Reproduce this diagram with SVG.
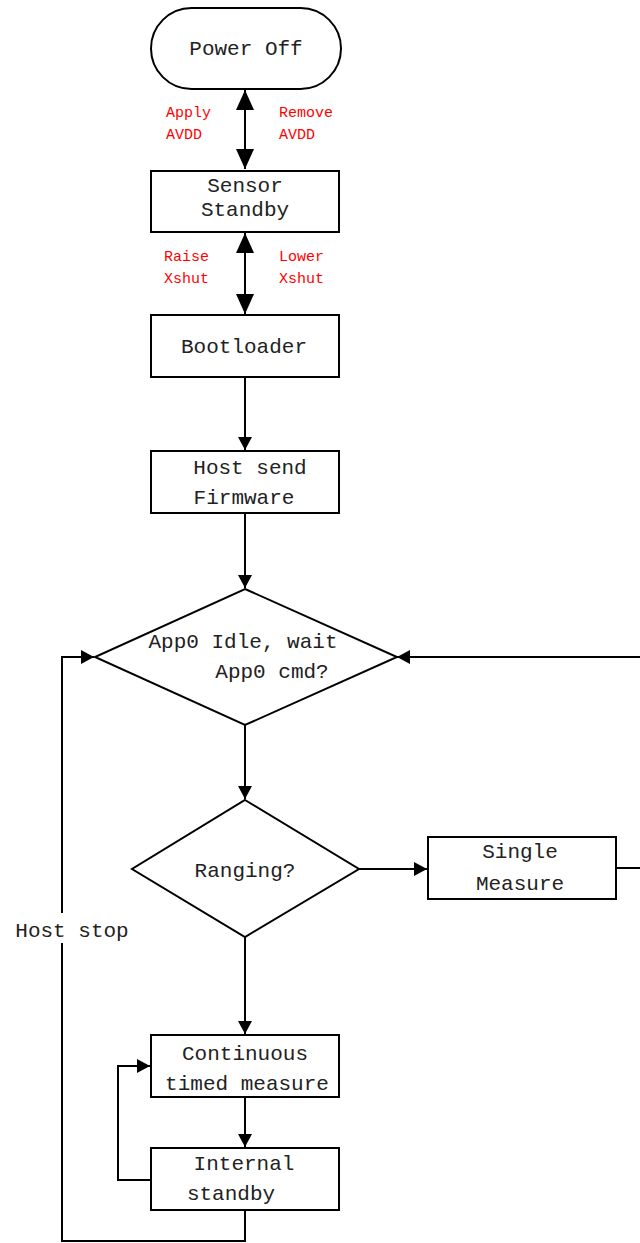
<svg xmlns="http://www.w3.org/2000/svg" width="640" height="1243" viewBox="0 0 640 1243">
<style>
.box{fill:#fff;stroke:#000;stroke-width:2}
.ln{fill:none;stroke:#000;stroke-width:2}
.t{font-family:"Liberation Mono","DejaVu Sans Mono",monospace;font-size:21px;fill:#222;text-anchor:middle}
.r{font-family:"Liberation Mono","DejaVu Sans Mono",monospace;font-size:15px;fill:#ff0000}
</style>
<defs>
<marker id="ah" markerUnits="userSpaceOnUse" markerWidth="16" markerHeight="16" viewBox="0 0 16 16" refX="13" refY="8" orient="auto-start-reverse">
<path d="M0,1 L13,8 L0,15 Z" fill="#000"/>
</marker>
<marker id="big" markerUnits="userSpaceOnUse" markerWidth="22" markerHeight="22" viewBox="0 0 22 22" refX="20" refY="11" orient="auto-start-reverse">
<path d="M0,2 L20,11 L0,20 Z" fill="#000"/>
</marker>
</defs>
<rect width="640" height="1243" fill="#fff"/>
<g id="connectors">
<line class="ln" x1="245" y1="90" x2="245" y2="169" marker-start="url(#big)" marker-end="url(#big)"/>
<line class="ln" x1="245" y1="233" x2="245" y2="314" marker-start="url(#big)" marker-end="url(#big)"/>
<line class="ln" x1="245" y1="377" x2="245" y2="450" marker-end="url(#ah)"/>
<line class="ln" x1="245" y1="513" x2="245" y2="588" marker-end="url(#ah)"/>
<line class="ln" x1="245" y1="725" x2="245" y2="799" marker-end="url(#ah)"/>
<line class="ln" x1="359" y1="869" x2="427" y2="869" marker-end="url(#ah)"/>
<polyline class="ln" points="616,868 642,868"/>
<polyline class="ln" points="642,657 397,657" marker-end="url(#ah)"/>
<line class="ln" x1="245" y1="937" x2="245" y2="1034" marker-end="url(#ah)"/>
<line class="ln" x1="245" y1="1097" x2="245" y2="1147" marker-end="url(#ah)"/>
<polyline class="ln" points="151,1180 118,1180 118,1066 150,1066" marker-end="url(#ah)"/>
<polyline class="ln" points="245,1210 245,1241 62,1241 62,657 94,657" marker-end="url(#ah)"/>
<rect x="10" y="913" width="122" height="30" fill="#fff"/>
<text class="t" x="72" y="937">Host stop</text>
<text class="r" x="166" y="117">Apply</text>
<text class="r" x="166" y="139">AVDD</text>
<text class="r" x="279" y="117">Remove</text>
<text class="r" x="279" y="139">AVDD</text>
<text class="r" x="164" y="261">Raise</text>
<text class="r" x="164" y="283">Xshut</text>
<text class="r" x="279" y="261">Lower</text>
<text class="r" x="279" y="283">Xshut</text>
</g>
<g id="power-off">
<rect class="box" x="151" y="8" width="190" height="81" rx="40.5"/>
<text class="t" x="246" y="55">Power Off</text>
</g>
<g id="sensor-standby">
<rect class="box" x="151" y="171" width="188" height="61"/>
<text class="t" x="245" y="192">Sensor</text>
<text class="t" x="245" y="216">Standby</text>
</g>
<g id="bootloader">
<rect class="box" x="151" y="315" width="188" height="62"/>
<text class="t" x="244" y="353">Bootloader</text>
</g>
<g id="host-send-firmware">
<rect class="box" x="151" y="451" width="188" height="62"/>
<text class="t" x="250" y="474">Host send</text>
<text class="t" x="244" y="504">Firmware</text>
</g>
<g id="app0-idle">
<polygon class="box" points="245,589 397,657 245,725 95,657"/>
<text class="t" x="243" y="648">App0 Idle, wait</text>
<text class="t" x="272" y="678">App0 cmd?</text>
</g>
<g id="ranging">
<polygon class="box" points="245,800 359,869 245,937 132,869"/>
<text class="t" x="245" y="877">Ranging?</text>
</g>
<g id="single-measure">
<rect class="box" x="428" y="837" width="188" height="62"/>
<text class="t" x="520" y="858">Single</text>
<text class="t" x="520" y="890">Measure</text>
</g>
<g id="continuous">
<rect class="box" x="151" y="1035" width="188" height="62"/>
<text class="t" x="245" y="1060">Continuous</text>
<text class="t" x="247" y="1090">timed measure</text>
</g>
<g id="internal-standby">
<rect class="box" x="151" y="1148" width="188" height="62"/>
<text class="t" x="244" y="1170">Internal</text>
<text class="t" x="231" y="1200">standby</text>
</g>
</svg>
